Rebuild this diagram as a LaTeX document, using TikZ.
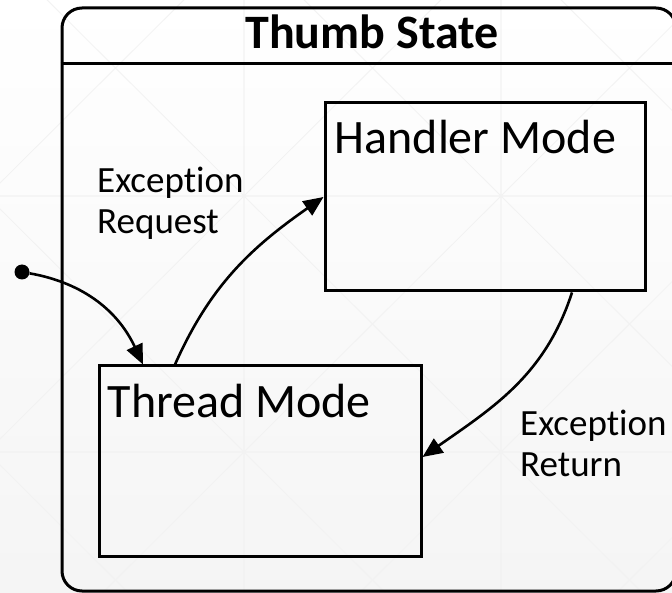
\documentclass[tikz,border=0pt]{standalone}
\usepackage{fontspec}
\setmainfont{Carlito}[Ligatures=NoCommon]
\usetikzlibrary{positioning,arrows.meta}

\begin{document}
\begin{tikzpicture}[
	x=1pt, y=1pt,
	mode/.style={draw, line width=3pt, minimum width=320pt, minimum height=188pt, inner sep=0pt},
	modename/.style={anchor=base west, font=\fontsize{48}{56}\selectfont, inner sep=0pt},
	trigger/.style={anchor=base west, align=left, font=\fontsize{37}{41}\selectfont, inner sep=0pt}
]
%% Draw background
\useasboundingbox (0,0) rectangle (672,-593);
\begin{scope}
	\clip (0,0) rectangle (672,-593);
	\shade[top color=white, bottom color=black!4] (0,0) rectangle (672,-593);
	\foreach \gx in {-13,244,501} {
		\foreach \gy in {60,-196,-452} {
			\draw[black!5, line width=0.8pt] (\gx,\gy) rectangle (\gx+257,\gy-256)
				(\gx,\gy) -- (\gx+257,\gy-256)
				(\gx+257,\gy) -- (\gx,\gy-256);
		}
	}
\end{scope}

%% Draw states
\node[draw, line width=3pt, rounded corners=20pt, minimum width=614pt, minimum height=583pt, inner sep=0pt] (thumb) at (369,-299.5) {};
\draw[line width=3pt] ([yshift=-57pt]thumb.north west) -- ([yshift=-57pt]thumb.north east);
\node[font=\bfseries\fontsize{48}{56}\selectfont, anchor=base, inner sep=0pt] (title) at ([xshift=3pt,yshift=-42pt]thumb.north) {Thumb State};

\node[mode] (handler) at (485,-197) {};
\node[mode, minimum width=322pt, minimum height=190pt] (thread) at (260,-461) {};
\node[modename] (handlername) at ([xshift=11pt,yshift=-52pt]handler.north west) {Handler Mode};
\node[modename] (threadname) at ([xshift=10pt,yshift=-53pt]thread.north west) {Thread Mode};

\node[circle, fill, inner sep=0pt, minimum size=15pt] (init) at (22,-272) {};

\node[trigger] (request) at (97,-234) {Exception\\Request};
\node[trigger] (return) at (520,-476) {Exception\\Return};

%% Draw transitions
\path[transition/.style={-{Triangle[length=20pt,width=17pt]}, line width=2.6pt}]
	(init) edge [transition, out=-10, in=115] ([xshift=-117pt]thread.north)
	([xshift=-85pt]thread.north) edge [transition, out=66, in=215] (handler.west)
	([xshift=87pt]handler.south) edge [transition, out=252, in=35] ([yshift=4pt]thread.east)
	;

\end{tikzpicture}
\end{document}
